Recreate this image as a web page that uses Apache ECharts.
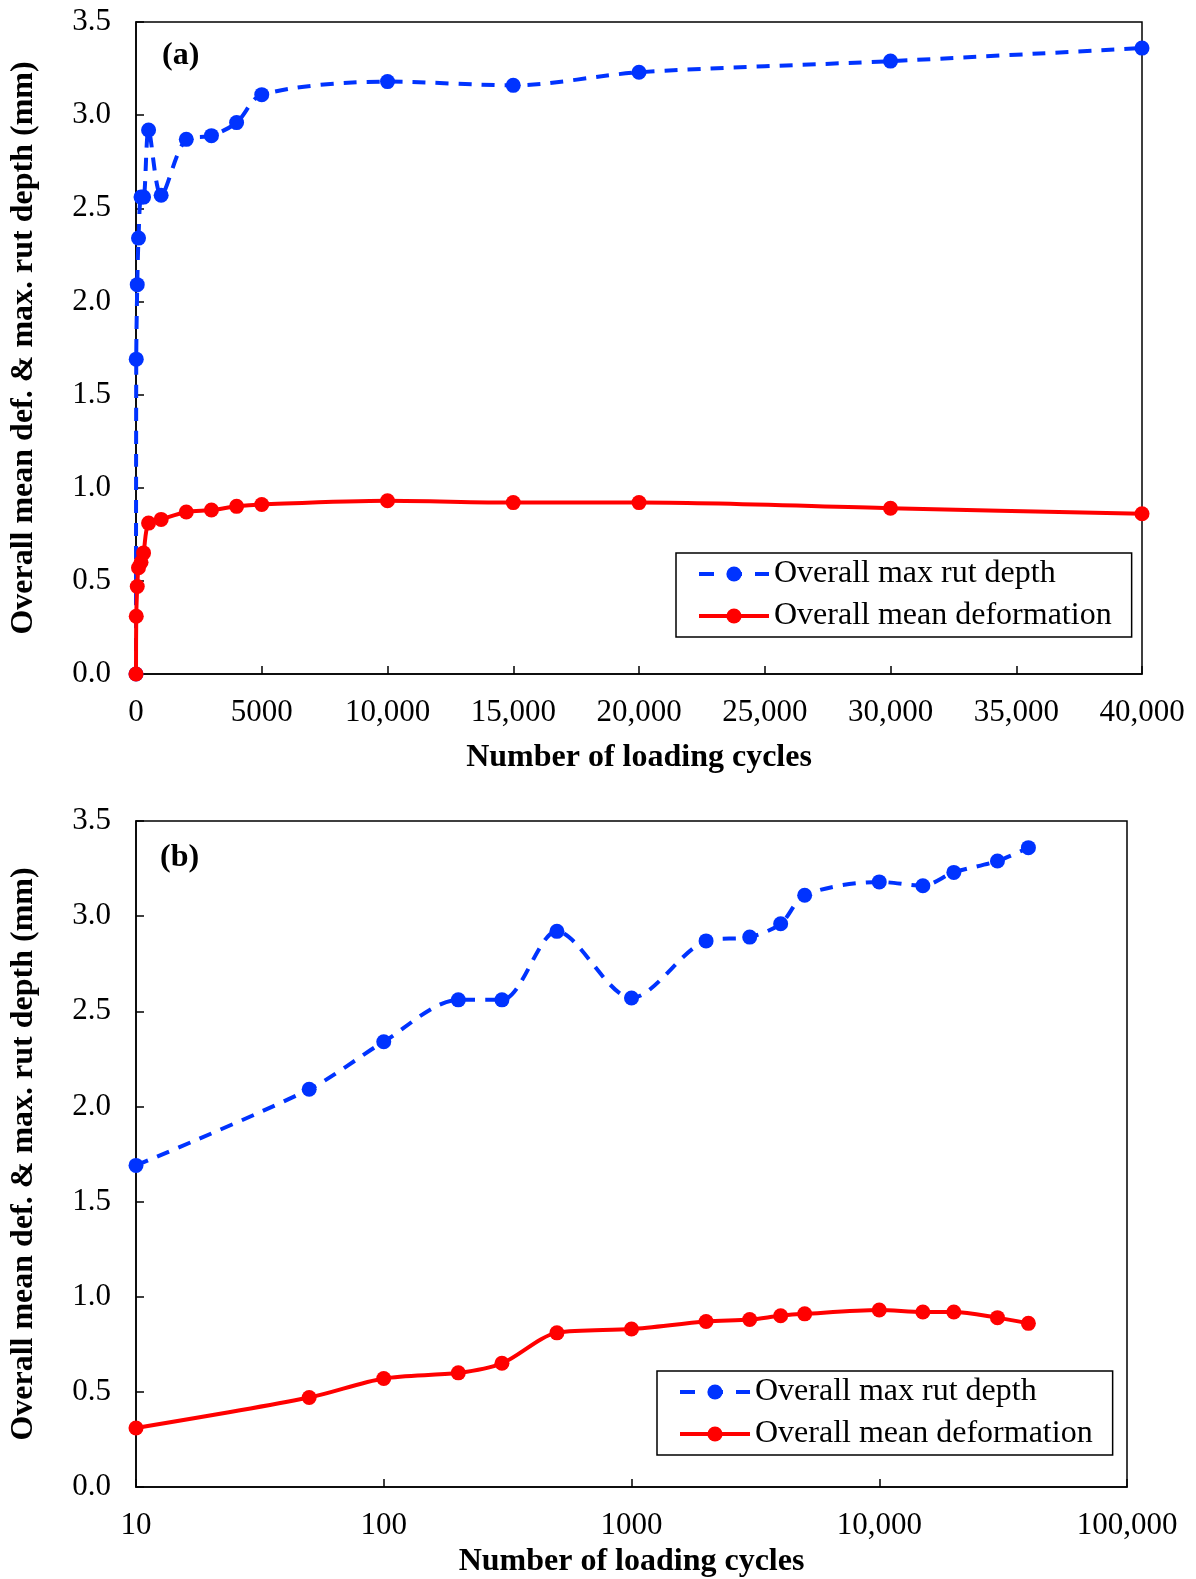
<!DOCTYPE html>
<html>
<head>
<meta charset="utf-8">
<script src="https://cdn.jsdelivr.net/npm/echarts@6/dist/echarts.min.js"></script>
<style>
html,body{margin:0;padding:0;background:#fff;}
#chart{width:1196px;height:1579px;}
</style>
</head>
<body>
<div id="chart"></div>
<script>
// Loading cycles (0 is shown only on the linear panel)
const cycles = [0, 10, 50, 100, 200, 300, 500, 1000, 2000, 3000, 4000, 5000, 10000, 15000, 20000, 30000, 40000];
// Overall max rut depth (mm)
const maxRut = [0, 1.69, 2.09, 2.34, 2.56, 2.56, 2.92, 2.57, 2.87, 2.89, 2.96, 3.11, 3.18, 3.16, 3.23, 3.29, 3.36];
// Overall mean deformation (mm)
const meanDef = [0, 0.31, 0.47, 0.57, 0.60, 0.65, 0.81, 0.83, 0.87, 0.88, 0.90, 0.91, 0.93, 0.92, 0.92, 0.89, 0.86];

const seriesNames = ['Overall max rut depth', 'Overall mean deformation'];
const panelLabels = ['(a)', '(b)'];
const xTitle = 'Number of loading cycles';
const yTitle = 'Overall mean def. & max. rut depth (mm)';

const FONT = '"Liberation Serif", "Times New Roman", serif';
const BLUE = '#0033ff';
const RED = '#ff0000';

const linPairs = (ys) => cycles.map((c, i) => [c, ys[i]]);
const logPairs = (ys) => cycles.map((c, i) => [c, ys[i]]).filter(p => p[0] > 0);

const fmtX = (v) => v >= 10000 ? v.toLocaleString('en-US') : String(v);

function yAxis(gi) {
  return {
    gridIndex: gi, type: 'value', min: 0, max: 3.5, interval: 0.5,
    name: yTitle, nameLocation: 'middle', nameGap: 96,
    nameTextStyle: {fontFamily: FONT, fontSize: 32, fontWeight: 'bold', color: '#000'},
    axisLine: {show: true, lineStyle: {color: '#000', width: 1.5}},
    axisTick: {show: true, inside: true, length: 8, lineStyle: {color: '#000', width: 1.5}},
    axisLabel: {fontFamily: FONT, fontSize: 31, color: '#000', margin: 25, formatter: v => v.toFixed(1)},
    splitLine: {show: false}
  };
}
function xAxisBase(gi, gap) {
  return {
    gridIndex: gi,
    name: xTitle, nameLocation: 'middle', nameGap: gap,
    nameTextStyle: {fontFamily: FONT, fontSize: 32, fontWeight: 'bold', color: '#000'},
    axisLine: {show: true, onZero: false, lineStyle: {color: '#000', width: 1.5}},
    axisTick: {show: true, inside: true, length: 8, lineStyle: {color: '#000', width: 1.5}},
    minorTick: {show: false},
    axisLabel: {fontFamily: FONT, fontSize: 31, color: '#000', margin: 23, formatter: fmtX},
    splitLine: {show: false}
  };
}
function legend(gi, left, top) {
  return {
    data: [
      {name: seriesNames[0], lineStyle: {width: 4, type: [15, 13]}},
      {name: seriesNames[1], lineStyle: {width: 4}}
    ],
    orient: 'vertical', left: left, top: top,
    backgroundColor: '#fff', borderColor: '#000', borderWidth: 1.5,
    padding: [5, 20, 5, 21], itemGap: 10, itemWidth: 70, itemHeight: 19,
    textStyle: {fontFamily: FONT, fontSize: 32, color: '#000', lineHeight: 30},
    selectedMode: false
  };
}
function lineSeries(name, data, xi, dashed, color) {
  return {
    name: name, type: 'line', xAxisIndex: xi, yAxisIndex: xi, data: data,
    smooth: 0.3, symbol: 'circle', symbolSize: 15,
    itemStyle: {color: color},
    lineStyle: {color: color, width: 4, type: dashed ? [13, 10] : 'solid'},
    z: dashed ? 2 : 3, animation: false
  };
}

const chart = echarts.init(document.getElementById('chart'), null, {renderer: 'canvas'});
chart.setOption({
  backgroundColor: '#fff',
  animation: false,
  grid: [
    {left: 135, top: 22, width: 1007, height: 652, show: true, borderColor: '#000', borderWidth: 1.5, containLabel: false},
    {left: 135, top: 821, width: 992, height: 667, show: true, borderColor: '#000', borderWidth: 1.5, containLabel: false}
  ],
  xAxis: [
    Object.assign(xAxisBase(0, 68), {type: 'value', min: 0, max: 40000, interval: 5000}),
    Object.assign(xAxisBase(1, 59), {type: 'log', logBase: 10, min: 10, max: 100000})
  ],
  yAxis: [yAxis(0), yAxis(1)],
  legend: [legend(0, 676, 553), legend(1, 657, 1371)],
  graphic: [
    {type: 'text', left: 162, top: 40, style: {text: panelLabels[0], font: 'bold 32px ' + FONT, fill: '#000'}},
    {type: 'text', left: 160, top: 842, style: {text: panelLabels[1], font: 'bold 32px ' + FONT, fill: '#000'}}
  ],
  series: [
    lineSeries(seriesNames[0], linPairs(maxRut), 0, true, BLUE),
    lineSeries(seriesNames[1], linPairs(meanDef), 0, false, RED),
    lineSeries(seriesNames[0], logPairs(maxRut), 1, true, BLUE),
    lineSeries(seriesNames[1], logPairs(meanDef), 1, false, RED)
  ]
});
</script>
</body>
</html>
